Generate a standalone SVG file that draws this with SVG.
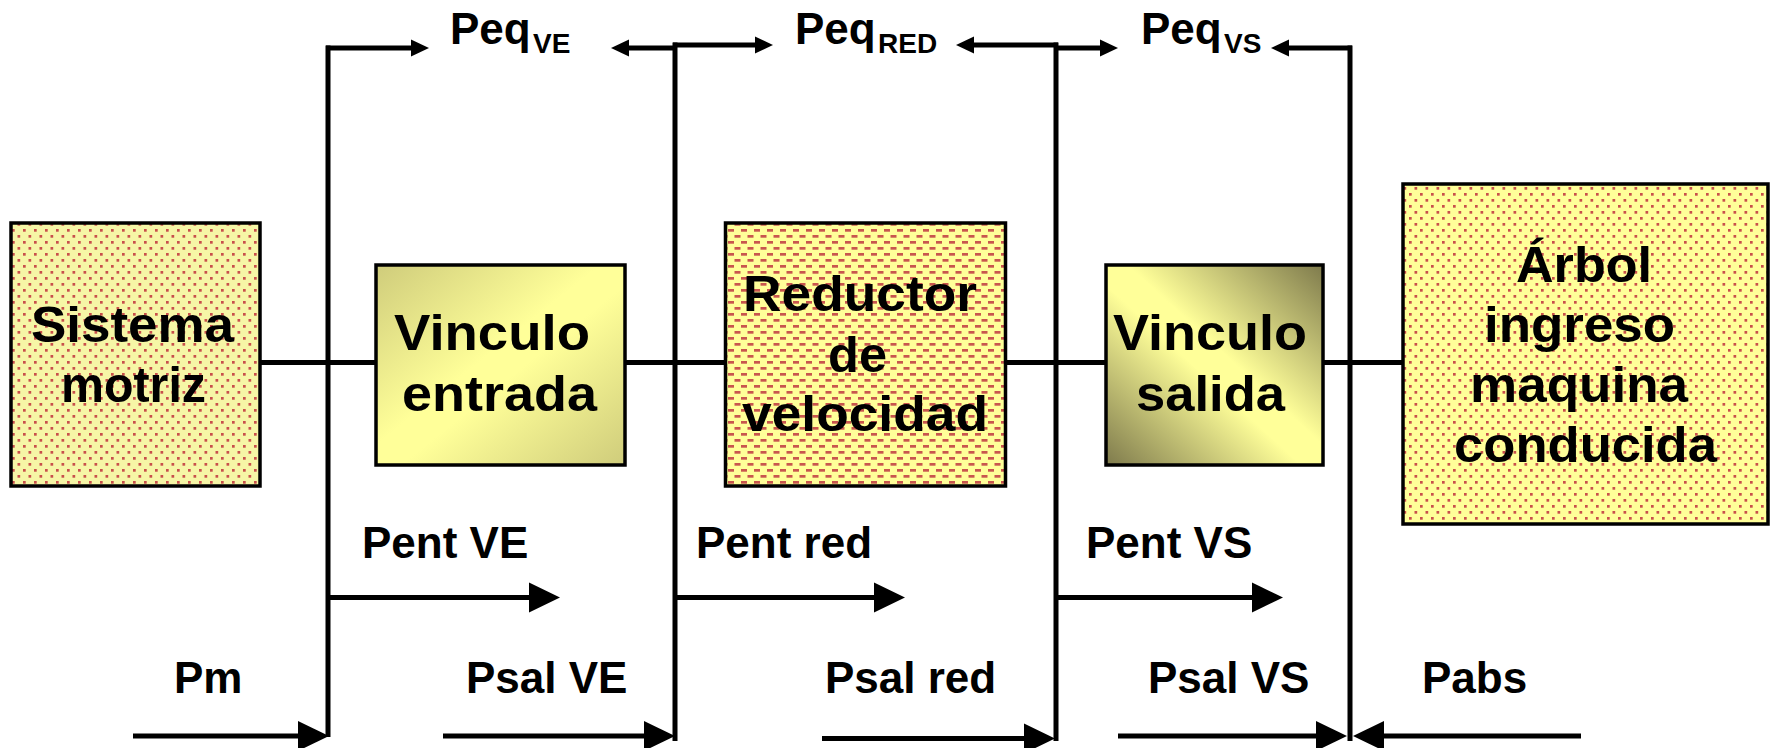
<svg xmlns="http://www.w3.org/2000/svg" width="1771" height="748" viewBox="0 0 1771 748">
  <style>
    .ln { stroke: #000; stroke-width: 5; fill: none; }
    .box { stroke: #000; stroke-width: 3.5; }
    .bt { font-family: "Liberation Sans", Arial, sans-serif; font-weight: bold; font-size: 50px; fill: #000; }
    .lb { font-family: "Liberation Sans", Arial, sans-serif; font-weight: bold; font-size: 44px; fill: #000; }
    .sub { font-size: 28px; }
    .sa { marker-end: url(#ah-s); }
    .ba { marker-end: url(#ah-b); }
  </style>
  <defs>
    <marker id="ah-s" markerUnits="userSpaceOnUse" markerWidth="18" markerHeight="18" refX="6" refY="8.5" orient="auto" overflow="visible">
      <path d="M0,0 L18,8.5 L0,17 Z" fill="#000"/>
    </marker>
    <marker id="ah-b" markerUnits="userSpaceOnUse" markerWidth="31" markerHeight="30" refX="10" refY="15" orient="auto" overflow="visible">
      <path d="M0,0 L31,15 L0,30 Z" fill="#000"/>
    </marker>
    <pattern id="dotsA" patternUnits="userSpaceOnUse" width="11" height="12">
      <rect width="11" height="12" fill="#F6F6A6"/>
      <rect x="1" y="1" width="2.7" height="2.7" fill="#C8504B"/>
      <rect x="6.5" y="7" width="2.7" height="2.7" fill="#C8504B"/>
    </pattern>
    <pattern id="dotsB" patternUnits="userSpaceOnUse" width="11" height="12">
      <rect width="11" height="12" fill="#FFFF99"/>
      <rect x="1" y="1" width="2.7" height="2.7" fill="#C8504B"/>
      <rect x="6.5" y="7" width="2.7" height="2.7" fill="#C8504B"/>
    </pattern>
    <pattern id="dash" patternUnits="userSpaceOnUse" width="13" height="12">
      <rect width="13" height="12" fill="#FFFF99"/>
      <rect x="0" y="1" width="6" height="2.7" fill="#C8564E"/>
      <rect x="6.5" y="7" width="6" height="2.7" fill="#C8564E"/>
    </pattern>
    <linearGradient id="gEnt" x1="0" y1="0" x2="1" y2="1">
      <stop offset="0" stop-color="#CFCC7B"/>
      <stop offset="0.45" stop-color="#FFFF99"/>
      <stop offset="0.55" stop-color="#FFFF99"/>
      <stop offset="1" stop-color="#CFCC7B"/>
    </linearGradient>
    <linearGradient id="gSal" x1="1" y1="0" x2="0" y2="1">
      <stop offset="0" stop-color="#7E7A4C"/>
      <stop offset="0.45" stop-color="#FFFF99"/>
      <stop offset="0.55" stop-color="#FFFF99"/>
      <stop offset="1" stop-color="#7E7A4C"/>
    </linearGradient>
  </defs>
  <rect width="1771" height="748" fill="#fff"/>

  <g id="connectors">
    <line class="ln" x1="260" y1="362.5" x2="1403" y2="362.5"/>
    <line class="ln" x1="328" y1="45.5" x2="328" y2="737"/>
    <line class="ln" x1="675" y1="42.5" x2="675" y2="741"/>
    <line class="ln" x1="1056" y1="42.5" x2="1056" y2="741"/>
    <line class="ln" x1="1350" y1="45.5" x2="1350" y2="741"/>
    <line class="ln sa" x1="326" y1="48" x2="417" y2="48"/>
    <line class="ln sa" x1="677" y1="48" x2="623" y2="48"/>
    <line class="ln sa" x1="673" y1="45" x2="761" y2="45"/>
    <line class="ln sa" x1="1058" y1="45" x2="968" y2="45"/>
    <line class="ln sa" x1="1054" y1="48" x2="1106" y2="48"/>
    <line class="ln sa" x1="1352" y1="48" x2="1283" y2="48"/>
    <line class="ln ba" x1="328" y1="597.5" x2="539" y2="597.5"/>
    <line class="ln ba" x1="675" y1="597.5" x2="884" y2="597.5"/>
    <line class="ln ba" x1="1056" y1="597.5" x2="1262" y2="597.5"/>
    <line class="ln ba" x1="133" y1="736" x2="308" y2="736"/>
    <line class="ln ba" x1="443" y1="736" x2="654" y2="736"/>
    <line class="ln ba" x1="822" y1="738.5" x2="1034" y2="738.5"/>
    <line class="ln ba" x1="1118" y1="736" x2="1326" y2="736"/>
    <line class="ln ba" x1="1581" y1="736" x2="1374" y2="736"/>
  </g>

  <g id="sistema-motriz">
    <rect class="box" x="11" y="223" width="249" height="263" fill="url(#dotsA)"/>
    <text class="bt" x="31" y="342" textLength="203" lengthAdjust="spacingAndGlyphs">Sistema</text>
    <text class="bt" x="61" y="402" textLength="145" lengthAdjust="spacingAndGlyphs">motriz</text>
  </g>

  <g id="vinculo-entrada">
    <rect class="box" x="376" y="265" width="249" height="200" fill="url(#gEnt)"/>
    <text class="bt" x="394" y="350" textLength="196" lengthAdjust="spacingAndGlyphs">Vinculo</text>
    <text class="bt" x="402" y="411" textLength="195" lengthAdjust="spacingAndGlyphs">entrada</text>
  </g>

  <g id="reductor">
    <rect class="box" x="725.5" y="223" width="280" height="263" fill="url(#dash)"/>
    <text class="bt" x="743" y="311" textLength="234" lengthAdjust="spacingAndGlyphs">Reductor</text>
    <text class="bt" x="828" y="372" textLength="59" lengthAdjust="spacingAndGlyphs">de</text>
    <text class="bt" x="742" y="431" textLength="246" lengthAdjust="spacingAndGlyphs">velocidad</text>
  </g>

  <g id="vinculo-salida">
    <rect class="box" x="1106" y="265" width="217" height="200" fill="url(#gSal)"/>
    <text class="bt" x="1113" y="350" textLength="194" lengthAdjust="spacingAndGlyphs">Vinculo</text>
    <text class="bt" x="1136" y="411" textLength="149" lengthAdjust="spacingAndGlyphs">salida</text>
  </g>

  <g id="arbol">
    <rect class="box" x="1403" y="184" width="365" height="340" fill="url(#dotsB)"/>
    <text class="bt" x="1516" y="282" textLength="136" lengthAdjust="spacingAndGlyphs">Árbol</text>
    <text class="bt" x="1484" y="342" textLength="191" lengthAdjust="spacingAndGlyphs">ingreso</text>
    <text class="bt" x="1470" y="402" textLength="218" lengthAdjust="spacingAndGlyphs">maquina</text>
    <text class="bt" x="1454" y="462" textLength="263" lengthAdjust="spacingAndGlyphs">conducida</text>
  </g>

  <g id="labels">
    <text class="lb" x="450" y="44">Peq<tspan class="sub" x="533" y="53">VE</tspan></text>
    <text class="lb" x="795" y="44">Peq<tspan class="sub" x="878" y="53">RED</tspan></text>
    <text class="lb" x="1141" y="44">Peq<tspan class="sub" x="1224" y="53">VS</tspan></text>
    <text class="lb" x="362" y="558">Pent VE</text>
    <text class="lb" x="696" y="558">Pent red</text>
    <text class="lb" x="1086" y="558">Pent VS</text>
    <text class="lb" x="174" y="693">Pm</text>
    <text class="lb" x="466" y="693">Psal VE</text>
    <text class="lb" x="825" y="693">Psal red</text>
    <text class="lb" x="1148" y="693">Psal VS</text>
    <text class="lb" x="1422" y="693">Pabs</text>
  </g>
</svg>
